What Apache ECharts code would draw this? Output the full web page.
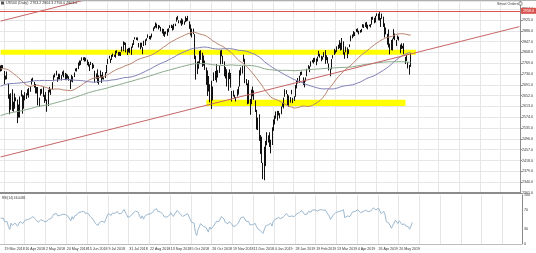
<!DOCTYPE html>
<html><head><meta charset="utf-8">
<script src="https://cdn.jsdelivr.net/npm/echarts@6/dist/echarts.min.js"></script>
<style>html,body{margin:0;padding:0;background:#fff;}#c{width:536px;height:253px;}</style>
</head><body><div id="c"></div>
<script>
// ---------- data ----------
const symbolText = 'US500 (Daily)  2763.2 2804.3 2756.0 2803.0';
const rsiText = 'RSI(14) 46.0436';
const smartText = 'Smart Orders';
const tickLabels = ['19 Mar 2018','10 Apr 2018','2 May 2018','24 May 2018','15 Jun 2018','9 Jul 2018','31 Jul 2018','22 Aug 2018','13 Sep 2018','5 Oct 2018','26 Oct 2018','19 Nov 2018','11 Dec 2018','4 Jan 2019','28 Jan 2019','19 Feb 2019','13 Mar 2019','4 Apr 2019','26 Apr 2019','20 May 2019'];
const firstLabelDate = '2018-03-19';
const labelEvery = 16;
const futureSlots = 84;
const rsiLevels = [0, 30, 70, 100];
const maPeriods = [50, 100, 200];
const rsiPeriod = 14;
const resistanceLevel = 2958;
const upperZone = {from:'2018-03-14', to:'2019-06-10', low:2800, high:2818};
const lowerZone = {from:'2018-10-23', to:'2019-05-29', low:2615, high:2637};
const channelLow = [['2018-03-14', 2431], ['2019-09-30', 2901]];
const channelHigh = [['2018-03-14', 2921], ['2019-09-30', 3391]];

// daily closes Jun 2017 - 13 Mar 2018 (history for the averages)
const preCloses = [
2430,2439,2436,2433,2429,2432,2434,2431,2429,2440,2438,2432,2433,2453,2437,2436,2435,2439,2439,2419,2440,2423,
2429,2432,2433,2409,2425,2427,2425,2443,2447,2459,2459,2460,2473,2473,2472,2470,2477,2477,2475,2472,2470,
2476,2478,2472,2476,2480,2474,2474,2438,2441,2465,2464,2468,2430,2426,2428,2452,2444,2439,2443,2444,2446,2457,2472,
2477,2477,2458,2465,2465,2461,2488,2496,2498,2495,2500,2503,2506,2508,2500,2502,2497,2497,2507,2510,2519,
2529,2534,2537,2538,2550,2545,2550,2555,2551,2553,2557,2560,2561,2562,2575,2565,2569,2557,2560,2581,2572,2575,
2579,2579,2587,2591,2590,2594,2584,2582,2584,2578,2564,2585,2579,2582,2599,2597,2598,2602,2601,2628,2626,2648,
2642,2639,2629,2629,2636,2652,2660,2664,2662,2652,2675,2690,2681,2679,2684,2683,2680,2682,2687,2673,
2695,2713,2724,2743,2748,2751,2748,2768,2787,2789,2777,2802,2798,2810,2833,2839,2837,2839,2873,2853,2823,2824,
2822,2762,2649,2695,2681,2581,2620,2656,2662,2698,2731,2732,2730,2716,2701,2703,2747,2780,2744,2714,
2678,2691,2720,2728,2727,2738,2786,2783,2765
];

// daily candles [open, high, low, close] from 14 Mar 2018
const candles = [
[2753,2761,2739,2749],[2751,2763,2741,2747],[2750,2762,2749,2752],
[2741,2741,2694,2712],[2715,2724,2710,2717],[2715,2739,2711,2711],[2691,2695,2641,2643],[2646,2657,2585,2588],
[2619,2661,2601,2658],[2667,2675,2597,2613],[2612,2630,2594,2605],[2610,2660,2605,2641],[2640,2646,2632,2640],
[2633,2638,2553,2582],[2593,2620,2573,2614],[2584,2649,2573,2644],[2652,2672,2649,2662],[2645,2656,2587,2604],
[2618,2653,2605,2613],[2638,2665,2635,2656],[2643,2661,2640,2642],[2653,2675,2653,2663],[2676,2680,2645,2656],
[2670,2686,2666,2678],[2697,2713,2692,2706],[2711,2717,2703,2708],[2701,2702,2681,2693],[2692,2694,2660,2670],
[2675,2683,2660,2670],[2681,2683,2617,2634],[2635,2645,2612,2639],[2652,2676,2652,2666],[2675,2677,2659,2669],
[2682,2683,2648,2648],
[2643,2655,2626,2654],[2651,2665,2633,2636],[2629,2638,2594,2629],[2621,2673,2615,2663],
[2670,2684,2664,2672],[2670,2676,2655,2672],[2678,2701,2675,2697],[2705,2726,2704,2723],[2722,2732,2718,2727],
[2738,2742,2725,2730],[2719,2719,2702,2711],[2713,2731,2711,2722],[2719,2731,2711,2720],[2718,2726,2707,2712],
[2735,2739,2725,2733],[2738,2743,2718,2725],[2713,2734,2708,2733],[2731,2731,2708,2727],[2724,2728,2714,2721],
[2718,2722,2706,2712],[2705,2710,2676,2690],[2703,2727,2703,2724],[2721,2722,2700,2705],
[2719,2736,2719,2735],
[2741,2750,2740,2747],[2749,2752,2739,2749],[2754,2772,2748,2772],[2775,2779,2760,2771],[2765,2779,2763,2779],
[2780,2790,2778,2782],[2785,2790,2780,2787],[2787,2791,2775,2776],[2784,2789,2776,2783],[2778,2782,2762,2780],
[2765,2774,2757,2774],[2752,2765,2741,2763],[2770,2774,2763,2767],[2769,2770,2748,2749],[2760,2764,2752,2755],
[2742,2742,2699,2718],[2722,2732,2713,2723],[2729,2747,2698,2699],[2698,2725,2692,2716],[2727,2743,2718,2718],
[2704,2727,2698,2726],[2733,2737,2711,2713],[2714,2718,2710,2714],[2724,2737,2716,2736],[2738,2763,2733,2759],
[2766,2785,2766,2784],[2788,2796,2786,2793],[2779,2785,2770,2774],[2783,2799,2781,2798],[2796,2804,2792,2801],
[2798,2800,2792,2798],[2789,2814,2789,2809],[2811,2816,2805,2815],[2809,2810,2796,2804],[2805,2810,2796,2801],
[2799,2809,2795,2807],[2820,2829,2811,2820],[2817,2848,2812,2846],[2839,2845,2835,2837],[2842,2843,2808,2819],
[2820,2821,2799,2802],[2809,2824,2808,2816],
[2821,2825,2805,2813],[2800,2829,2799,2827],[2829,2841,2825,2840],
[2841,2853,2835,2850],[2856,2863,2855,2858],[2856,2862,2853,2857],[2857,2862,2851,2853],[2838,2842,2826,2833],
[2835,2843,2819,2821],[2827,2843,2826,2839],[2827,2827,2802,2818],[2831,2850,2831,2840],[2838,2855,2834,2850],
[2853,2859,2850,2857],[2861,2873,2861,2862],[2860,2867,2856,2861],[2860,2868,2854,2856],[2862,2876,2862,2875],
[2885,2898,2885,2897],[2901,2903,2893,2898],[2900,2916,2898,2914],[2908,2912,2895,2901],[2898,2907,2891,2902],
[2902,2905,2897,2900],[2897,2900,2884,2897],[2892,2894,2876,2888],[2888,2893,2868,2878],[2868,2883,2864,2872],
[2882,2884,2874,2877],[2872,2893,2868,2888],[2889,2895,2881,2888],[2896,2906,2896,2904],[2907,2908,2896,2905],
[2904,2905,2887,2889],[2891,2911,2890,2904],[2906,2912,2903,2907],[2919,2935,2919,2931],[2937,2940,2926,2930],
[2921,2924,2913,2919],[2921,2923,2913,2916],[2917,2931,2904,2906],[2911,2927,2909,2914],[2911,2920,2908,2914],
[2927,2938,2917,2924],[2924,2932,2920,2923],[2931,2940,2922,2926],[2919,2920,2893,2902],[2902,2909,2869,2886],
[2878,2894,2862,2884],[2882,2894,2874,2881],[2873,2874,2784,2786],[2776,2796,2710,2728],[2770,2775,2730,2767],
[2764,2776,2749,2751],[2768,2813,2766,2810],[2811,2816,2781,2809],[2802,2807,2756,2769],[2776,2797,2760,2768],
[2774,2779,2745,2756],[2721,2754,2691,2741],[2738,2743,2651,2656],[2675,2723,2667,2706],[2667,2693,2628,2659],
[2683,2706,2604,2641],[2640,2685,2635,2682],[2705,2736,2705,2712],
[2718,2741,2708,2740],[2745,2766,2700,2723],
[2726,2744,2717,2738],[2738,2761,2734,2756],[2775,2815,2765,2814],[2807,2817,2794,2806],[2795,2796,2766,2781],
[2773,2776,2722,2726],[2731,2755,2714,2722],[2737,2747,2685,2702],[2694,2735,2670,2730],[2718,2747,2712,2736],
[2730,2734,2681,2690],[2654,2669,2631,2641],[2657,2671,2649,2649],[2650,2655,2643,2648],[2633,2647,2631,2633],
[2649,2675,2649,2673],[2663,2685,2656,2682],[2691,2744,2685,2744],[2736,2754,2725,2738],[2737,2760,2732,2760],
[2790,2800,2774,2790],[2782,2785,2697,2700],[2700,2712,2690,2702],[2663,2696,2621,2695],[2692,2708,2623,2633],
[2630,2640,2583,2637],[2664,2674,2621,2636],[2658,2685,2650,2651],[2658,2671,2637,2650],[2629,2635,2593,2599],
[2591,2601,2530,2546],[2559,2573,2528,2546],[2548,2585,2489,2507],[2497,2510,2442,2467],[2466,2504,2409,2417],
[2401,2410,2351,2351],[2364,2468,2347,2468],[2443,2489,2398,2489],[2499,2520,2473,2486],[2498,2509,2483,2507],
[2477,2520,2467,2510],[2492,2493,2444,2448],[2474,2538,2474,2532],
[2535,2566,2525,2550],[2569,2580,2548,2574],[2580,2595,2569,2585],[2573,2597,2562,2597],[2588,2597,2581,2596],
[2580,2589,2570,2583],[2586,2613,2585,2610],[2614,2625,2612,2616],[2609,2645,2606,2636],[2651,2675,2648,2671],
[2668,2672,2658,2662],[2657,2658,2617,2633],[2643,2653,2612,2639],[2638,2647,2627,2643],[2657,2673,2657,2665],
[2644,2644,2625,2644],[2644,2650,2633,2641],[2653,2690,2648,2682],[2685,2708,2678,2704],
[2703,2716,2696,2707],
[2706,2724,2698,2725],[2728,2738,2724,2738],[2736,2739,2727,2732],[2718,2718,2691,2706],[2693,2709,2682,2708],
[2712,2718,2703,2710],[2722,2749,2722,2745],[2752,2762,2749,2754],[2753,2758,2737,2746],[2760,2776,2757,2776],
[2776,2781,2772,2778],[2770,2788,2768,2780],[2780,2789,2774,2785],[2785,2786,2762,2775],[2781,2793,2775,2793],
[2805,2814,2794,2796],[2792,2803,2789,2794],[2787,2796,2776,2793],[2789,2793,2782,2784],
[2798,2809,2791,2804],
[2814,2816,2767,2793],[2795,2798,2780,2790],[2790,2791,2768,2772],[2766,2768,2743,2749],[2731,2749,2722,2743],
[2747,2784,2747,2784],[2787,2798,2786,2792],[2799,2821,2799,2811],[2811,2816,2804,2808],[2811,2830,2810,2822],
[2823,2836,2820,2833],[2841,2852,2823,2832],[2831,2843,2815,2824],[2820,2860,2817,2855],[2848,2848,2800,2801],
[2797,2809,2785,2798],[2812,2829,2809,2818],[2820,2826,2787,2806],[2811,2819,2803,2815],[2829,2837,2827,2834],
[2848,2869,2848,2867],[2869,2873,2859,2867],[2877,2885,2865,2873],[2873,2881,2867,2879],[2884,2893,2882,2893],
[2888,2895,2880,2895],[2886,2886,2873,2878],[2881,2889,2879,2888],[2892,2893,2881,2888],[2901,2910,2898,2907],
[2908,2909,2896,2906],[2912,2916,2900,2907],[2916,2918,2895,2900],[2904,2908,2891,2905],[2905,2908,2902,2905],
[2899,2910,2898,2908],[2910,2936,2908,2934],[2934,2937,2926,2927],[2928,2933,2913,2926],[2925,2940,2916,2940],
[2940,2949,2939,2943],[2937,2948,2924,2946],
[2952,2954,2923,2924],[2922,2932,2900,2918],[2929,2948,2929,2946],
[2908,2937,2900,2932],[2913,2913,2862,2884],[2880,2898,2873,2880],[2860,2875,2836,2871],[2863,2891,2826,2881],
[2840,2840,2801,2812],[2820,2853,2816,2834],[2820,2858,2815,2851],[2856,2892,2856,2876],[2859,2876,2852,2860],
[2841,2853,2831,2840],[2855,2869,2855,2864],[2856,2865,2851,2856],[2836,2836,2805,2822],[2832,2841,2820,2826],
[2826,2832,2822,2827],[2830,2841,2802,2802],[2790,2792,2766,2783],[2786,2799,2777,2788],[2766,2773,2750,2752],
[2752,2763,2728,2744],[2763,2804,2756,2803]
];

// ---------- build ----------
const N = candles.length;
const cats = [];
let d = new Date(Date.UTC(2018, 2, 14));
while (cats.length < N + futureSlots) {
  const wd = d.getUTCDay(), m = d.getUTCMonth(), day = d.getUTCDate();
  if (wd !== 0 && wd !== 6 && !(m === 11 && day === 25) && !(m === 0 && day === 1)) cats.push(d.toISOString().slice(0, 10));
  d = new Date(d.getTime() + 86400000);
}
const P = preCloses.length;
const closesAll = preCloses.concat(candles.map(c => c[3]));
function sma(n) {
  return candles.map((_, i) => { const j = P + i; let s = 0; for (let k = j - n + 1; k <= j; k++) s += closesAll[k]; return +(s / n).toFixed(2); });
}
function rsi(n) {
  const out = new Array(closesAll.length).fill(null);
  let ag = 0, al = 0;
  for (let i = 1; i <= n; i++) { const ch = closesAll[i] - closesAll[i - 1]; if (ch > 0) ag += ch; else al -= ch; }
  ag /= n; al /= n; out[n] = 100 - 100 / (1 + ag / al);
  for (let i = n + 1; i < closesAll.length; i++) {
    const ch = closesAll[i] - closesAll[i - 1];
    ag = (ag * (n - 1) + Math.max(ch, 0)) / n; al = (al * (n - 1) + Math.max(-ch, 0)) / n;
    out[i] = al === 0 ? 100 : 100 - 100 / (1 + ag / al);
  }
  return out.slice(P).map(v => +v.toFixed(3));
}
const firstIdx = cats.indexOf(firstLabelDate);
const lastLabelIdx = firstIdx + labelEvery * (tickLabels.length - 1);
const isTick = i => i >= firstIdx && (i - firstIdx) % labelEvery === 0;
const lastClose = candles[N - 1][3];
const gridCol = '#e6e6e6', axisCol = '#8c8c8c', txtCol = '#333';
const FONT = 'Liberation Sans';
const FS = 3.6;
const maColors = ['#b8836f', '#7f7fb6', '#8aa88a'];

const chart = echarts.init(document.getElementById('c'), null, {renderer: 'canvas'});
const option = {
  animation: false,
  textStyle: {fontFamily: FONT},
  grid: [{left: 0, right: 14, top: 1, height: 192}, {left: 0, right: 14, top: 195, height: 49}],
  xAxis: [
    {type: 'category', gridIndex: 0, data: cats, boundaryGap: true,
     axisLine: {show: true, lineStyle: {color: axisCol, width: 2}}, axisTick: {show: false}, axisLabel: {show: false},
     splitLine: {show: true, interval: (i) => isTick(i), lineStyle: {color: gridCol, width: 1}}},
    {type: 'category', gridIndex: 1, data: cats, boundaryGap: true,
     axisLine: {show: true, lineStyle: {color: '#bdbdbd', width: 1}}, axisTick: {show: false},
     axisLabel: {show: true, hideOverlap: false, interval: (i) => isTick(i) && i <= lastLabelIdx,
       formatter: (v, i) => tickLabels[(i - firstIdx) / labelEvery] || '', fontSize: FS, fontFamily: FONT, color: txtCol, align: 'left', margin: 3},
     splitLine: {show: true, interval: (i) => isTick(i), lineStyle: {color: gridCol, width: 1}}}
  ],
  yAxis: [
    {type: 'value', gridIndex: 0, position: 'right', min: 2301, max: 2993.5, interval: 39,
     axisLine: {show: true, lineStyle: {color: axisCol}}, axisTick: {show: true, length: 2, lineStyle: {color: axisCol}},
     axisLabel: {fontSize: FS, fontFamily: FONT, color: txtCol, margin: 2, hideOverlap: false, formatter: v => v.toFixed(1), showMaxLabel: false},
     splitLine: {show: true, lineStyle: {color: gridCol}}},
    {type: 'value', gridIndex: 1, position: 'right', min: 0, max: 100, interval: 10,
     axisLine: {show: true, lineStyle: {color: axisCol}}, axisTick: {show: false},
     axisLabel: {fontSize: FS, fontFamily: FONT, color: txtCol, margin: 2, hideOverlap: false, showMinLabel: true, showMaxLabel: true,
       formatter: v => rsiLevels.includes(v) ? String(v) : ''},
     splitLine: {show: false}}
  ],
  series: [
    {name: 'zones', type: 'line', xAxisIndex: 0, yAxisIndex: 0, data: [], z: 1, silent: true,
     markArea: {silent: true, itemStyle: {color: '#ffff00', opacity: 1},
       data: [
         [{coord: [upperZone.from, upperZone.low]}, {coord: [upperZone.to, upperZone.high]}],
         [{coord: [lowerZone.from, lowerZone.low]}, {coord: [lowerZone.to, lowerZone.high]}]
       ]}},
    {name: 'US500', type: 'candlestick', xAxisIndex: 0, yAxisIndex: 0, z: 3, barWidth: 1,
     data: candles.map(c => [c[0], c[3], c[2], c[1]]),
     itemStyle: {color: '#111', color0: '#111', borderColor: '#111', borderColor0: '#111', borderWidth: 1}},
    ...maPeriods.map((p, k) => ({name: 'MA' + p, type: 'line', xAxisIndex: 0, yAxisIndex: 0, z: 4, data: sma(p),
      showSymbol: false, silent: true, lineStyle: {color: maColors[k], width: 1}})),
    {name: 'channelHigh', type: 'line', xAxisIndex: 0, yAxisIndex: 0, z: 4, data: channelHigh, showSymbol: false, clip: true,
     silent: true, lineStyle: {color: '#c86464', width: 1}},
    {name: 'channelLow', type: 'line', xAxisIndex: 0, yAxisIndex: 0, z: 4, data: channelLow, showSymbol: false, clip: true,
     silent: true, lineStyle: {color: '#c86464', width: 1},
     markLine: {symbol: 'none', silent: true, animation: false, data: [
       {yAxis: resistanceLevel, lineStyle: {color: '#d9534f', width: 1, type: 'solid'},
        label: {show: true, position: 'end', distance: 1, formatter: resistanceLevel.toFixed(1), backgroundColor: '#d9534f', color: '#fff', fontSize: FS, fontFamily: FONT, padding: [1, 2]}},
       {yAxis: lastClose, lineStyle: {opacity: 0},
        label: {show: true, position: 'end', distance: 1, formatter: lastClose.toFixed(1), backgroundColor: '#111', color: '#fff', fontSize: FS, fontFamily: FONT, padding: [1, 2]}}
     ]}},
    {name: 'RSI', type: 'line', xAxisIndex: 1, yAxisIndex: 1, data: rsi(rsiPeriod), showSymbol: false, silent: true,
     lineStyle: {color: '#9cb8cf', width: 1}}
  ],
  graphic: [
    {type: 'line', shape: {x1: 0, y1: 0.5, x2: 536, y2: 0.5}, style: {stroke: '#b0b0b0', lineWidth: 1}, z: 10},
    {type: 'rect', shape: {x: 1, y: 1.5, width: 3, height: 3}, style: {fill: '#555'}, z: 10},
    {type: 'text', x: 6, y: 1.2, style: {text: symbolText, fontSize: FS, fill: txtCol, fontFamily: FONT}, z: 10},
    {type: 'text', x: 497, y: 1.5, style: {text: smartText, fontSize: FS, fill: txtCol, fontFamily: FONT}, z: 10},
    {type: 'rect', shape: {x: 519, y: 2, width: 3, height: 3}, style: {fill: '#fff', stroke: '#666', lineWidth: 0.6}, z: 10},
    {type: 'text', x: 2, y: 197, style: {text: rsiText, fontSize: 3.2, fill: txtCol, fontFamily: FONT}, z: 10}
  ]
};
chart.setOption(option);
</script>
</body></html>
